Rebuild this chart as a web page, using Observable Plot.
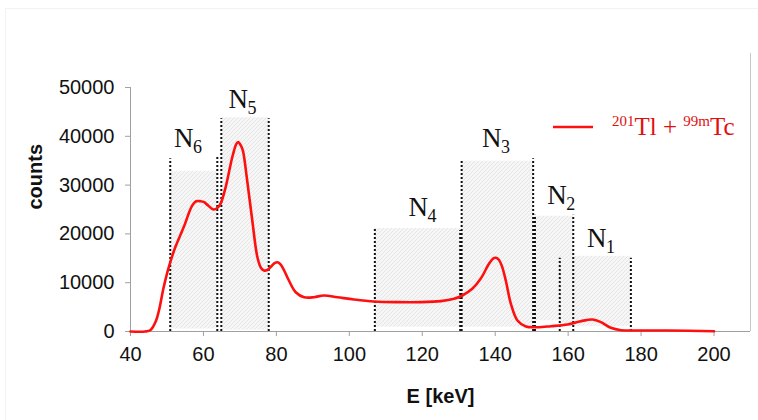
<!DOCTYPE html>
<html><head><meta charset="utf-8">
<script src="https://cdn.jsdelivr.net/npm/d3@7"></script>
<script src="https://cdn.jsdelivr.net/npm/@observablehq/plot@0.6"></script>
<style>
body{margin:0;background:#fff}
#chart{position:relative;width:758px;height:420px;overflow:hidden}
#frame{position:absolute;left:5px;top:8px;width:760px;height:420px;border-top:1px solid #f3f3f3;border-left:1px solid #f3f3f3;box-sizing:border-box}
</style>
</head><body>
<div id="chart"><div id="frame"></div></div>
<script>
// Spectrum (E in keV, counts)
const energy = [40, 44, 45.5, 47, 47.8, 49.1, 50.5, 52.3, 54.6, 56.9, 58, 59.2, 60.2, 61.0, 62.8, 63.8, 64.7, 66.1, 67.9, 69.0, 69.5, 70.2, 70.8, 72.0, 73.4, 74.8, 75.8, 76.6, 77.5, 78.4, 79.5, 80.3, 81.2, 82.2, 83.4, 85.3, 87.6, 90.3, 93.0, 96.7, 101.3, 106.8, 113.2, 119.6, 125.1, 128.7, 131.0, 133.7, 136.0, 138.3, 139.5, 140.2, 141.0, 141.8, 142.9, 144.3, 146.1, 148.4, 151.6, 155.3, 159.8, 163.5, 166.7, 169.0, 171.7, 174.5, 179.1, 187.3, 200];
const counts = [0, 0, 300, 2200, 4300, 9080, 13200, 17300, 21400, 25800, 26700, 26700, 26500, 26000, 25000, 25300, 26200, 29600, 35700, 38400, 38800, 38200, 37100, 30900, 22700, 15200, 13000, 12500, 12600, 13200, 14000, 14200, 13700, 12400, 10500, 8050, 7030, 7030, 7380, 7030, 6560, 6150, 6010, 6010, 6220, 6700, 7380, 8750, 10800, 13870, 15000, 15100, 14700, 13500, 10450, 5670, 2250, 1020, 880, 1090, 1430, 2110, 2460, 1910, 760, 270, 200, 200, 60];

// Energy windows N1..N6
const winIndex = ["1", "2", "3", "4", "5", "6"];
const winLo = [157.7, 150.9, 130.8, 107.0, 64.9, 50.9];
const winHi = [177.2, 161.4, 150.4, 130.4, 77.9, 63.8];
const winRectTop = [15400, 23600, 34900, 21100, 43800, 32800];
const winRectBottom = [1000, 2200, 900, 900, 300, 500];
const winLineTopLo = [15000, 23800, 35000, 21100, 43600, 35400];
const winLineTopHi = [15000, 23800, 35400, 20700, 43600, 35900];
const labelX = [165.2, 154.3, 136.4, 116.2, 66.9, 51.9];
const labelY = [17270, 26170, 37770, 23770, 45700, 37770];

const xTicks = [40, 60, 80, 100, 120, 140, 160, 180, 200];
const yTicks = [0, 10000, 20000, 30000, 40000, 50000];

const spectrum = energy.map((e, i) => ({e, c: counts[i]}));
const wins = winIndex.map((k, i) => ({k, lo: winLo[i], hi: winHi[i], top: winRectTop[i], bot: winRectBottom[i], tLo: winLineTopLo[i], tHi: winLineTopHi[i], lx: labelX[i], ly: labelY[i]}));
const lines = wins.flatMap(w => [{x: w.lo, t: w.tLo}, {x: w.hi, t: w.tHi}]);

const sans = "'Liberation Sans', Arial, sans-serif";
const serif = "'Liberation Serif', 'Times New Roman', serif";

const plot = Plot.plot({
  width: 758, height: 420,
  marginLeft: 130, marginRight: 8, marginTop: 87, marginBottom: 89,
  style: {fontFamily: sans, background: "transparent", overflow: "visible"},
  x: {domain: [40, 210]},
  y: {domain: [0, 50000]},
  marks: [
    Plot.rectY(wins, {x1: "lo", x2: "hi", y1: "bot", y2: "top", fill: "url(#hatch)"}),
    Plot.ruleX(lines, {x: "x", y1: 0, y2: "t", stroke: "#111", strokeWidth: 2, strokeDasharray: "2,2"}),
    Plot.ruleY([0], {stroke: "#a0a0a0", strokeWidth: 1}),
    Plot.ruleX([40], {stroke: "#a0a0a0", strokeWidth: 1}),
    Plot.ruleX([210], {y1: 0, y2: 57000, stroke: "#c8c8c8", strokeWidth: 1}),
    Plot.axisX({ticks: xTicks, tickSize: 5, tickPadding: 10, fontSize: 20, stroke: "#a0a0a0", color: "#111", label: null, tickFormat: d => String(d)}),
    Plot.axisY({ticks: yTicks, tickSize: 5, tickPadding: 11, fontSize: 20, stroke: "#a0a0a0", color: "#111", label: null, tickFormat: d => String(d)}),
    Plot.line(spectrum, {x: "e", y: "c", stroke: "#ff1010", strokeWidth: 2.6, curve: "catmull-rom"}),
    Plot.text(wins, {x: "lx", y: "ly", text: d => "N", textAnchor: "start", lineAnchor: "bottom", fontSize: 27, fontFamily: serif, fill: "#111"}),
    Plot.text(wins, {x: "lx", y: "ly", text: "k", textAnchor: "start", lineAnchor: "bottom", fontSize: 18, fontFamily: serif, fill: "#111", dx: 19, dy: 6}),
    Plot.text(["counts"], {frameAnchor: "left", text: d => d, rotate: -90, dx: -95, fontSize: 20, fontWeight: "bold", fill: "#111"}),
    Plot.text(["E [keV]"], {frameAnchor: "bottom", text: d => d, dy: 71, fontSize: 20, fontWeight: "bold", fill: "#111"})
  ]
});

const svg = d3.select(plot);
const defs = svg.insert("defs", ":first-child");
const pat = defs.append("pattern").attr("id", "hatch").attr("patternUnits", "userSpaceOnUse").attr("width", 4).attr("height", 4);
pat.append("rect").attr("width", 4).attr("height", 4).attr("fill", "#f6f6f6");
pat.append("path").attr("d", "M-1,1 l2,-2 M0,4 l4,-4 M3,5 l2,-2").attr("stroke", "#e0e0e0").attr("stroke-width", 0.7);

// Legend
const lg = svg.append("g").attr("text-anchor", "start");
lg.append("line").attr("x1", 553).attr("x2", 593).attr("y1", 127).attr("y2", 127).attr("stroke", "#ff1010").attr("stroke-width", 2.5);
const lt = lg.append("text").attr("x", 612).attr("y", 135).attr("fill", "#e01010").attr("text-anchor", "start").style("font-family", serif).style("font-size", "25px");
lt.append("tspan").style("font-size", "15px").attr("dy", -9).text("201");
lt.append("tspan").attr("dy", 9).text("Tl + ");
lt.append("tspan").style("font-size", "15px").attr("dy", -9).text("99m");
lt.append("tspan").attr("dy", 9).text("Tc");

document.getElementById("chart").appendChild(plot);
plot.style.position = "absolute"; plot.style.left = "0"; plot.style.top = "0";
</script>
</body></html>
